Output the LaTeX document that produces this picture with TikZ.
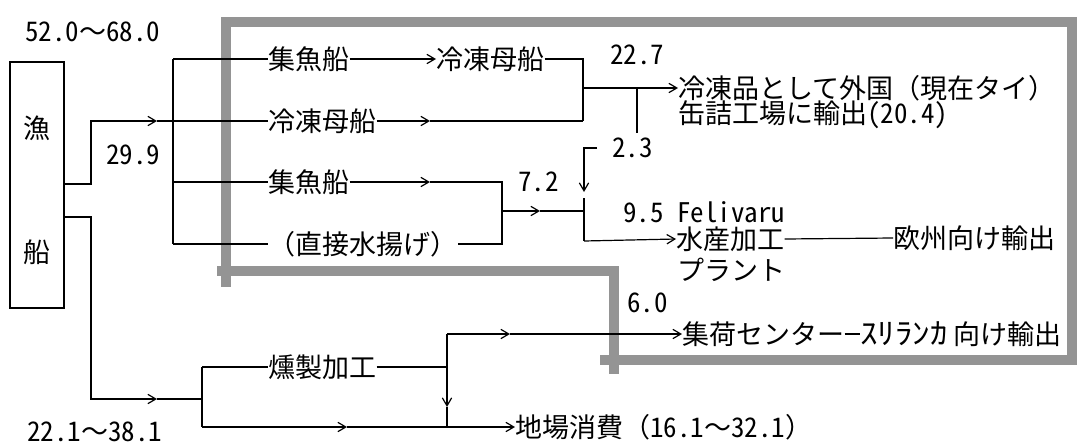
\documentclass[tikz,border=0pt]{standalone}
\usepackage{fontspec}
\setmainfont{Noto Sans CJK JP}
\newfontfamily\hw{Noto Sans CJK JP}[RawFeature=+hwid]
\usetikzlibrary{arrows.meta}
\begin{document}
\begin{tikzpicture}[x=0.75pt,y=-0.75pt,
  every node/.style={inner sep=0pt, font=\fontsize{20.25pt}{24pt}\selectfont},
  lbl/.style={anchor=west},
  ln/.style={line width=0.9pt},
  arr/.style={ln, -{Straight Barb[length=6pt,width=7pt]}},
  band/.style={fill=black!42, draw=none}]
\useasboundingbox (0,0) rectangle (1077,443);
% shaded frame
\fill[band] (221,17) rectangle (1077,27);
\fill[band] (1067,17) rectangle (1077,365);
\fill[band] (221,17) rectangle (231,287);
\fill[band] (217,266) rectangle (619,276);
\fill[band] (609,266) rectangle (619,374);
\fill[band] (600,355) rectangle (1077,365);
% nodes
\node[lbl] (r1) at (25,32) {{\hw 52.0}～{\hw 68.0}};
\node[draw, ln, minimum width=40.5pt, minimum height=184.5pt] (boat) at (37,185) {};
\node (ch1) at (37,128) {漁};
\node (ch2) at (37,252) {船};
\node[lbl] (v299) at (106,155) {\hw 29.9};
\node[lbl] (v221) at (27,432) {{\hw 22.1}～{\hw 38.1}};
\node[lbl] (a1) at (268,59) {集魚船};
\node[lbl] (a2) at (436,59) {冷凍母船};
\node[lbl] (b1) at (268,121) {冷凍母船};
\node[lbl] (c3) at (268,182) {集魚船};
\node[lbl] (d1) at (268,244) {（直接水揚げ）};
\node[lbl] (v227) at (610,55) {\hw 22.7};
\node[lbl] (exp1) at (678,88) {冷凍品として外国（現在タイ）};
\node[lbl] (exp2) at (678,115) {缶詰工場に輸出{\hw (20.4)}};
\node[lbl] (v23) at (612,148) {\hw 2.3};
\node[lbl] (v72) at (518,182) {\hw 7.2};
\node[lbl] (fel) at (623,212) {\hw 9.5 Felivaru};
\node[lbl] (sui) at (676,239) {水産加工};
\node[lbl] (pla) at (677,270) {プラント};
\node[lbl] (eu) at (893,238) {欧州向け輸出};
\node[lbl] (v60) at (627,303) {\hw 6.0};
\node[lbl] (shu) at (682,334) {集荷センター};
\node[lbl] (sri) at (860,334) {\scalebox{1.3}[1.1]{ｽﾘﾗﾝｶ}};
\node[lbl] (muke) at (953,334) {向け輸出};
\node[lbl] (kun) at (268,367) {燻製加工};
\node[lbl] (jiba) at (515,427) {地場消費（{\hw 16.1}～{\hw 32.1}）};
% coordinates
\coordinate (o1) at (64,184);
\coordinate (o2) at (64,217);
\coordinate (k1) at (91,184);
\coordinate (k2) at (91,121);
\coordinate (m1) at (157,121);
\coordinate (t1) at (173,59);
\coordinate (t3) at (173,182);
\coordinate (t4) at (173,244);
\coordinate (j1) at (583,59);
\coordinate (j2) at (583,121);
\coordinate (j3) at (583,88);
\coordinate (m2) at (430,121);
\coordinate (tap1) at (637,88);
\coordinate (tap2) at (637,133);
\coordinate (br1) at (597,148);
\coordinate (br2) at (584,148);
\coordinate (br3) at (584,192);
\coordinate (m3) at (430,182);
\coordinate (p1) at (502,182);
\coordinate (p2) at (502,244);
\coordinate (p3) at (502,211);
\coordinate (m4) at (540,211);
\coordinate (q1) at (584,211);
\coordinate (q0) at (584,198);
\coordinate (q2) at (584,241);
\coordinate (k3) at (91,217);
\coordinate (k4) at (91,399);
\coordinate (m5) at (157,399);
\coordinate (s1) at (202,399);
\coordinate (s2) at (202,367);
\coordinate (s3) at (202,427);
\coordinate (m6) at (347,427);
\coordinate (u1) at (447,427);
\coordinate (u2) at (447,367);
\coordinate (u3) at (447,334);
\coordinate (u4) at (447,407);
\coordinate (m7) at (510,334);
% connectors
\draw[arr] (o1) -- (k1) -- (k2) -- (m1);
\draw[ln] (m1) -- (b1.west);
\draw[ln] (t1) -- (t4);
\draw[ln] (t1) -- (a1.west);
\draw[ln] (t3) -- (c3.west);
\draw[ln] (t4) -- (d1.west);
\draw[arr] (a1.east) -- (a2.west);
\draw[ln] (a2.east) -- (j1) -- (j2);
\draw[arr] (b1.east) -- (m2);
\draw[ln] (m2) -- (j2);
\draw[arr] (j3) -- (exp1.west);
\draw[ln] (tap1) -- (tap2);
\draw[arr] (br1) -- (br2) -- (br3);
\draw[arr] (c3.east) -- (m3);
\draw[ln] (m3) -- (p1) -- (p2) -- (d1.east);
\draw[arr] (p3) -- (m4);
\draw[ln] (m4) -- (q1);
\draw[ln] (q0) -- (q2);
\draw[arr] (q2) -- (sui.west);
\draw[ln] (sui.east) -- (eu.west);
\draw[arr] (o2) -- (k3) -- (k4) -- (m5);
\draw[ln] (m5) -- (s1);
\draw[ln] (s2) -- (s3);
\draw[ln] (s2) -- (kun.west);
\draw[arr] (s3) -- (m6);
\draw[ln] (m6) -- (u1);
\draw[arr] (u1) -- (jiba.west);
\draw[ln] (kun.east) -- (u2);
\draw[ln] (u3) -- (u2);
\draw[arr] (u2) -- (u4);
\draw[ln] (u4) -- (u1);
\draw[arr] (u3) -- (m7);
\draw[arr] (m7) -- (shu.west);
\draw[ln] (shu.east) -- (sri.west);
\end{tikzpicture}
\end{document}
